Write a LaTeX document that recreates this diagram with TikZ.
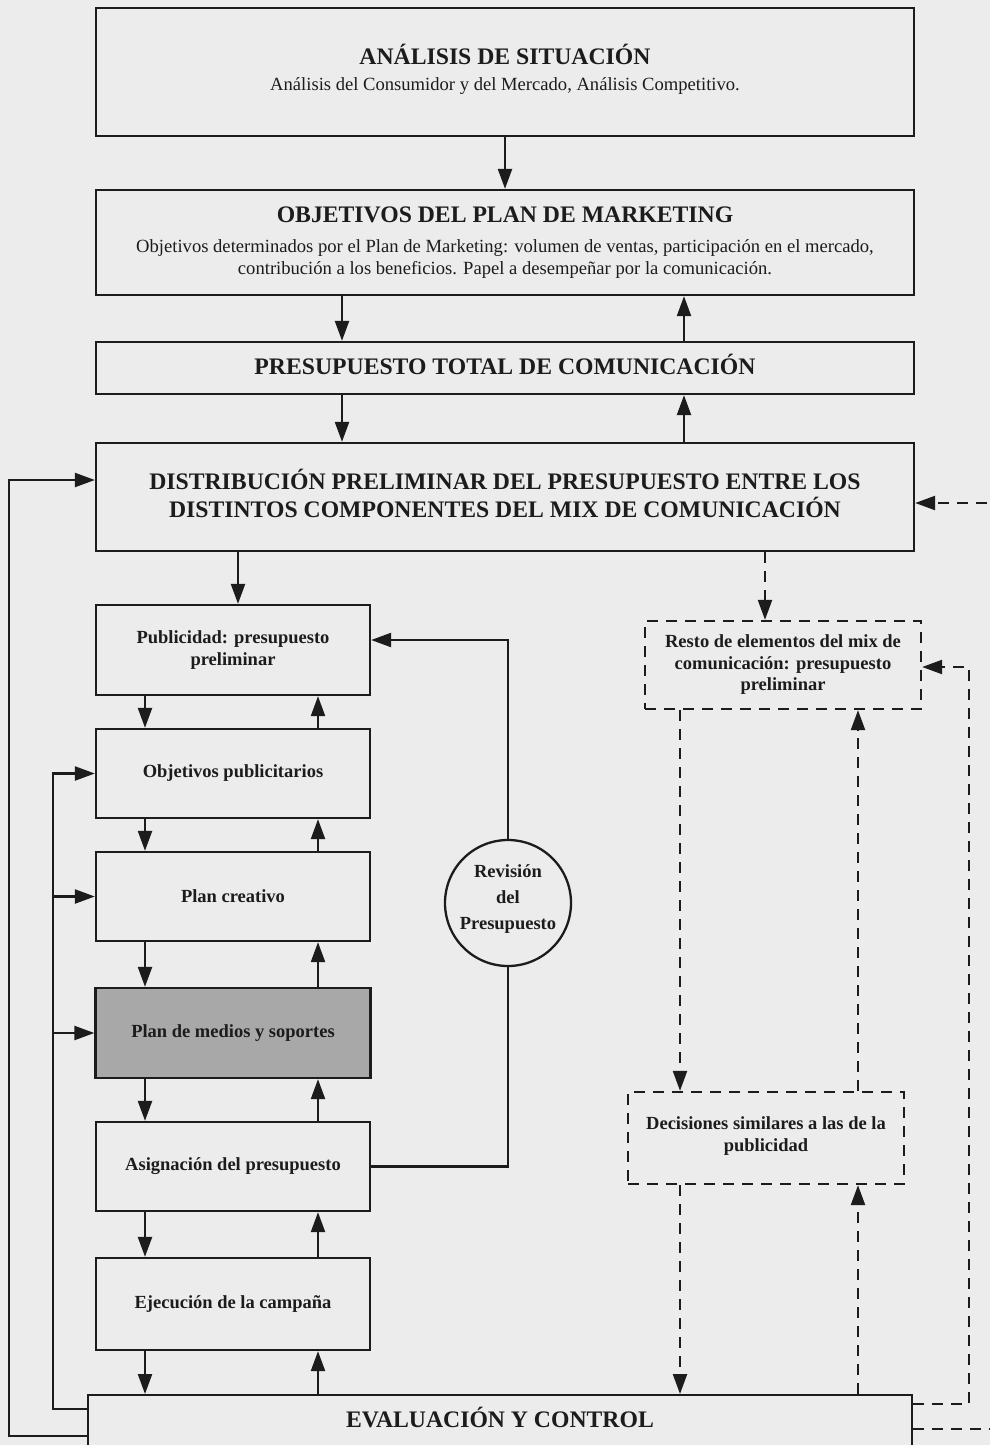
\documentclass[tikz,border=0pt]{standalone}
\usepackage{fontspec}
\setmainfont{Liberation Serif}
\usetikzlibrary{arrows.meta}
\definecolor{bgc}{RGB}{236,236,236}
\definecolor{ink}{RGB}{28,28,28}
\definecolor{shade}{RGB}{168,168,168}
\newcommand{\titlefont}{\fontsize{23.7}{28}\selectfont\bfseries}
\newcommand{\plainfont}{\fontsize{18.6}{21.5}\selectfont}
\newcommand{\labelfont}{\fontsize{18.5}{21.5}\selectfont\bfseries}
\tikzset{
  box/.style={draw=ink, line width=2.3pt, rectangle, inner sep=0pt, align=center, text=ink},
  dbox/.style={box, dash pattern=on 11pt off 8pt},
  bigtitle/.style={font=\titlefont},
  smalltext/.style={font=\labelfont},
  arr/.style={draw=ink, line width=2.3pt, -{Triangle[length=20pt,width=14pt]}},
  darr/.style={arr, dash pattern=on 11pt off 8pt},
  link/.style={draw=ink, line width=2.3pt},
}
\begin{document}
\begin{tikzpicture}[x=1pt, y=-1pt]
\fill[bgc] (0,0) rectangle (990,1445);
\useasboundingbox (0,0) rectangle (990,1445);
\clip (0,0) rectangle (990,1445);

% column positions used by the vertical connectors
\coordinate (cL) at (342,0);
\coordinate (cR) at (684,0);
\coordinate (cP) at (238,0);
\coordinate (sD) at (145,0);
\coordinate (sU) at (318,0);
\coordinate (cRs) at (765,0);
\coordinate (rD) at (680,0);
\coordinate (rU) at (858,0);
\coordinate (xo) at (9,0);
\coordinate (xi) at (53,0);
\coordinate (xr1) at (969,0);
\coordinate (xr2) at (1000,0);

% main chain
\node[box, font=\plainfont, minimum width=818pt, minimum height=128pt, text depth=9pt] (sit) at (505,72)
  {{\titlefont ANÁLISIS DE SITUACIÓN}\\[4pt]
   Análisis del Consumidor y del Mercado, Análisis Competitivo.};
\node[box, font=\plainfont, minimum width=818pt, minimum height=105pt] (obj) at (505,242.5)
  {{\titlefont OBJETIVOS DEL PLAN DE MARKETING}\\[9pt]
   Objetivos determinados por el Plan de Marketing: volumen de ventas, participación en el mercado,\\
   contribución a los beneficios. Papel a desempeñar por la comunicación.};
\node[box, bigtitle, minimum width=818pt, minimum height=52pt, text depth=8pt] (ptc) at (505,368)
  {PRESUPUESTO TOTAL DE COMUNICACIÓN};
\node[box, bigtitle, minimum width=818pt, minimum height=108pt, text depth=8pt] (dist) at (505,497)
  {DISTRIBUCIÓN PRELIMINAR DEL PRESUPUESTO ENTRE LOS\\DISTINTOS COMPONENTES DEL MIX DE COMUNICACIÓN};

% advertising column
\node[box, smalltext, minimum width=274pt, minimum height=90pt] (pub) at (233,650)
  {Publicidad: presupuesto\\preliminar};
\node[box, smalltext, minimum width=274pt, minimum height=89pt] (opub) at (233,773.5)
  {Objetivos publicitarios};
\node[box, smalltext, minimum width=274pt, minimum height=89pt] (pcre) at (233,896.5)
  {Plan creativo};
\node[box, smalltext, fill=shade, minimum width=275pt, minimum height=90pt] (pmed) at (233,1033)
  {Plan de medios y soportes};
\node[box, smalltext, minimum width=274pt, minimum height=89pt] (asig) at (233,1166.5)
  {Asignación del presupuesto};
\node[box, smalltext, minimum width=274pt, minimum height=92pt] (ejec) at (233,1304)
  {Ejecución de la campaña};
\node[box, bigtitle, minimum width=824pt, minimum height=56pt, text depth=12pt, anchor=north] (eval) at (500,1394)
  {EVALUACIÓN Y CONTROL};

% budget review
\node[box, circle, font=\fontsize{18.5}{26}\selectfont\bfseries, minimum size=126pt, text depth=12pt] (rev) at (508,903)
  {Revisión\\del\\Presupuesto};

% other communication elements
\node[dbox, smalltext, minimum width=276pt, minimum height=88pt] (resto) at (783,665)
  {Resto de elementos del mix de\\comunicación: presupuesto\\preliminar};
\node[dbox, smalltext, minimum width=276pt, minimum height=92pt, text depth=8pt] (dec) at (766,1138)
  {Decisiones similares a las de la\\publicidad};

% top chain connectors
\draw[arr] (sit.south) -- (obj.north);
\draw[arr] (cL |- obj.south) -- (cL |- ptc.north);
\draw[arr] (cR |- ptc.north) -- (cR |- obj.south);
\draw[arr] (cL |- ptc.south) -- (cL |- dist.north);
\draw[arr] (cR |- dist.north) -- (cR |- ptc.south);
\draw[arr] (cP |- dist.south) -- (cP |- pub.north);
\draw[darr] (cRs |- dist.south) -- (cRs |- resto.north);

% advertising column connectors
\foreach \a/\b in {pub/opub, opub/pcre, pcre/pmed, pmed/asig, asig/ejec, ejec/eval}{
  \draw[arr] (sD |- \a.south) -- (sD |- \b.north);
  \draw[arr] (sU |- \b.north) -- (sU |- \a.south);
}

% budget review loop
\coordinate (pubIn) at ([yshift=10pt]pub.east);
\draw[arr] (rev.north) |- (pubIn);
\draw[link] (rev.south) |- (asig.east);

% feedback from evaluation (left)
\coordinate (eOut) at ([yshift=-13pt]eval.west);
\coordinate (eIn) at ([yshift=14pt]eval.west);
\coordinate (dIn) at ([yshift=17pt]dist.west);
\draw[arr] (eOut) -| (xo |- dIn) -- (dIn);
\draw[arr] (eIn) -| (xi |- opub.west) -- (opub.west);
\draw[arr] (xi |- pcre.west) -- (pcre.west);
\draw[arr] (xi |- pmed.west) -- (pmed.west);

% right-hand dashed connectors
\draw[darr] (rD |- resto.south) -- (rD |- dec.north);
\draw[darr] (rU |- dec.north) -- (rU |- resto.south);
\draw[darr] (rD |- dec.south) -- (rD |- eval.north);
\draw[darr] (rU |- eval.north) -- (rU |- dec.south);
\coordinate (eR1) at ([yshift=19pt]eval.east);
\coordinate (eR2) at ([yshift=-6pt]eval.east);
\coordinate (rIn) at ([yshift=-2pt]resto.east);
\coordinate (dR) at ([yshift=-6pt]dist.east);
\draw[darr] (eR1) -| (xr1 |- rIn) -- (rIn);
\draw[darr] (eR2) -| (xr2 |- dR) -- (dR);
\end{tikzpicture}
\end{document}
